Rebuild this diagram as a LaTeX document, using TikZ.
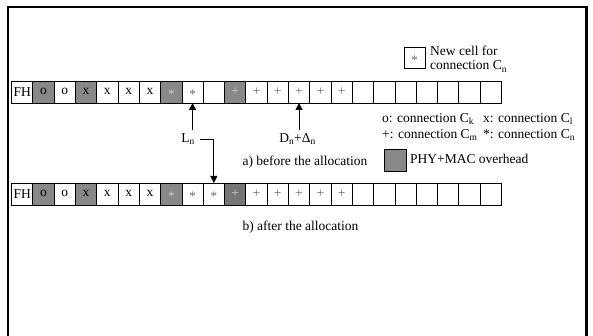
\documentclass[tikz,border=0pt]{standalone}
\usepackage{fontspec}
\setmainfont{Liberation Serif}
\usetikzlibrary{arrows.meta}

\definecolor{ovh}{RGB}{136,136,136}
\definecolor{ovhdark}{RGB}{118,118,118}
\definecolor{sym}{RGB}{105,105,105}
\definecolor{symlight}{RGB}{205,205,205}

\tikzset{
  cell/.style={draw=black, line width=0.8pt, minimum width=21.3pt, minimum height=22pt,
    inner sep=0pt, outer sep=0pt, font=\fontsize{13.5}{14}\selectfont},
  ovhcell/.style={cell, fill=ovh},
  lbl/.style={inner sep=1pt, font=\fontsize{13.5}{15}\selectfont},
  txt/.style={font=\fontsize{13.5}{14}\selectfont},
  star/.style={font=\fontsize{13}{14}\selectfont},
  arr/.style={line width=0.8pt, -{Triangle[width=7pt,length=7pt]}},
}

\begin{document}
\begin{tikzpicture}[x=1pt, y=-1pt]
  \useasboundingbox (0,0) rectangle (593,336);

  % outer frame (open at the bottom)
  \draw[line width=2.4pt] (8,336) -- (8,7) -- (586.5,7) -- (586.5,336);

  % frame row before the allocation
  \foreach \i/\g in {0/0, 1/1, 2/0, 3/1, 4/0, 5/0, 6/0, 7/1, 8/0, 9/0, 10/1,
      11/0, 12/0, 13/0, 14/0, 15/0, 16/0, 17/0, 18/0, 19/0, 20/0, 21/0, 22/0} {
    \ifnum\g=1
      \node[ovhcell] (a\i) at ({11.5+(\i+0.5)*21.3},92) {};
    \else
      \node[cell] (a\i) at ({11.5+(\i+0.5)*21.3},92) {};
    \fi
  }
  % frame row after the allocation
  \foreach \i/\g in {0/0, 1/1, 2/0, 3/1, 4/0, 5/0, 6/0, 7/1, 8/0, 9/0, 10/2,
      11/0, 12/0, 13/0, 14/0, 15/0, 16/0, 17/0, 18/0, 19/0, 20/0, 21/0, 22/0} {
    \ifcase\g
      \node[cell] (b\i) at ({11.5+(\i+0.5)*21.3},194) {};
    \or
      \node[ovhcell] (b\i) at ({11.5+(\i+0.5)*21.3},194) {};
    \or
      \node[cell, fill=ovhdark] (b\i) at ({11.5+(\i+0.5)*21.3},194) {};
    \fi
  }

  % cell contents
  \foreach \r in {a,b} {
    \node[txt] at (\r0) {FH};
    \foreach \i in {1,2} \node[txt] at ([yshift=1pt]\r\i) {o};
    \foreach \i in {3,4,5,6} \node[txt] at ([yshift=1pt]\r\i) {x};
    \node[star, text=symlight] at ([yshift=-2pt]\r7) {*};
    \node[star, text=sym] at ([yshift=-2pt]\r8) {*};
    \node[txt, text=symlight] at (\r10) {+};
    \foreach \i in {11,12,13,14,15} \node[txt, text=sym] at (\r\i) {+};
  }
  \node[star, text=sym] at ([yshift=-2pt]b9) {*};

  % legend: new cell
  \node[cell, minimum width=21pt, minimum height=21pt] (newcell) at (414.5,58) {};
  \node[star, text=sym] at ([yshift=-2pt]newcell) {*};
  \node[lbl, anchor=west, align=left, font=\fontsize{13.5}{14.5}\selectfont]
    (newtxt) at (429,59) {New cell for\\connection C\textsubscript{n}};

  % pointers
  \node[lbl] (Ln) at (188,139) {L\textsubscript{n}};
  \node[lbl] (Dn) at (297.5,139) {D\textsubscript{n}+Δ\textsubscript{n}};
  \draw[arr] (a8.south |- Ln.north) ++(0,-2) -- (a8.south);
  \draw[arr] (a13.south |- Dn.north) ++(0,-2) -- (a13.south);
  \draw[arr] ([xshift=4pt]Ln.east) -| (b9.north);

  % captions
  \node[lbl] (capa) at (305,162) {a) before the allocation};
  \node[lbl] (capb) at (300.5,227) {b) after the allocation};

  % legend: connections and overhead
  \node[lbl, anchor=west] (lk) at (381,119) {o: connection C\textsubscript{k}};
  \node[lbl, anchor=west] (ll) at (482,119) {x: connection C\textsubscript{l}};
  \node[lbl, anchor=west] (lm) at (381,135) {+: connection C\textsubscript{m}};
  \node[lbl, anchor=west] (ln) at (482,135) {*: connection C\textsubscript{n}};
  \node[ovhcell, minimum width=22pt, minimum height=22pt] (ovbox) at (395,160) {};
  \node[lbl, anchor=west] (ovtxt) at (409,159) {PHY+MAC overhead};
\end{tikzpicture}
\end{document}
